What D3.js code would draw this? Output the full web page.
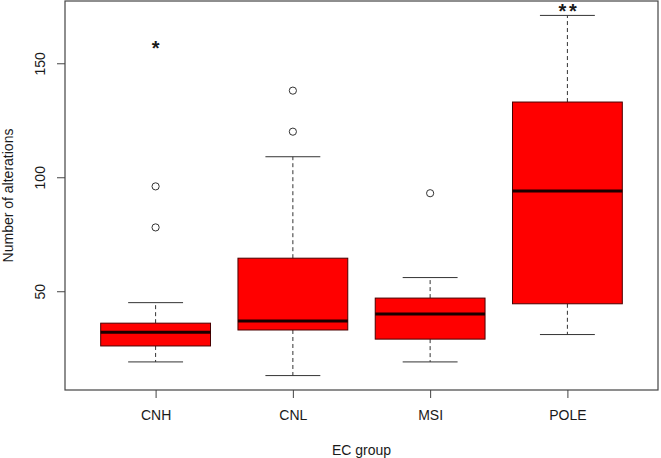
<!DOCTYPE html>
<html>
<head>
<meta charset="utf-8">
<script src="https://cdn.jsdelivr.net/npm/d3@7"></script>
<style>
  html, body { margin: 0; padding: 0; background: #fff; }
  text { font-family: "Liberation Sans", Arial, sans-serif; fill: #1a1a1a; }
</style>
</head>
<body>
<svg id="chart" width="661" height="458"></svg>
<script>
const categories = ["CNH", "CNL", "MSI", "POLE"];
const whiskerLow = [19, 13, 19, 31];
const q1 = [26, 33, 29, 44.5];
const median = [32, 37, 40, 94];
const q3 = [36, 64.5, 47, 133];
const whiskerHigh = [45, 109, 56, 171];
const outliers = [[96, 78], [138, 120], [93], []];
const yTicks = [50, 100, 150];
const signifLabels = ["*", "", "", "**"];
const signifValues = [158.5, null, null, 174.7];
const xTitle = "EC group";
const yTitle = "Number of alterations";

(function () {
const svg = d3.select("#chart");
const mLeft = 65, mRight = 658, mTop = 1, mBottom = 390;

// R-style 4% axis expansion
const allVals = [].concat(whiskerLow, whiskerHigh, ...outliers);
const lo = d3.min(allVals), hi = d3.max(allVals);
const pad = (hi - lo) * 0.04;
const y = d3.scaleLinear().domain([lo - pad, hi + pad]).range([mBottom, mTop]);
const n = categories.length;
const xpad = n * 0.04;
const x = d3.scaleLinear().domain([0.5 - xpad, n + 0.5 + xpad]).range([mLeft, mRight]);

const boxW = 0.8, capW = 0.4;
const data = categories.map((c, i) => ({
  c, i: i + 1, lo: whiskerLow[i], q1: q1[i], med: median[i], q3: q3[i], hi: whiskerHigh[i], out: outliers[i]
}));

const g = svg.append("g");
const boxes = g.selectAll("g.box").data(data).join("g").attr("class", "box");

boxes.append("line")
  .attr("x1", d => x(d.i)).attr("x2", d => x(d.i))
  .attr("y1", d => y(d.q3)).attr("y2", d => y(d.hi))
  .attr("stroke", "#333").attr("stroke-width", 1).attr("stroke-dasharray", "4,3");
boxes.append("line")
  .attr("x1", d => x(d.i)).attr("x2", d => x(d.i))
  .attr("y1", d => y(d.q1)).attr("y2", d => y(d.lo))
  .attr("stroke", "#333").attr("stroke-width", 1).attr("stroke-dasharray", "4,3");
["hi", "lo"].forEach(k => {
  boxes.append("line")
    .attr("x1", d => x(d.i - capW / 2)).attr("x2", d => x(d.i + capW / 2))
    .attr("y1", d => y(d[k])).attr("y2", d => y(d[k]))
    .attr("stroke", "#333").attr("stroke-width", 1);
});
boxes.append("rect")
  .attr("x", d => x(d.i - boxW / 2))
  .attr("width", d => x(d.i + boxW / 2) - x(d.i - boxW / 2))
  .attr("y", d => y(d.q3))
  .attr("height", d => y(d.q1) - y(d.q3))
  .attr("fill", "#ff0000").attr("stroke", "#4a0000").attr("stroke-width", 1);
boxes.append("line")
  .attr("x1", d => x(d.i - boxW / 2)).attr("x2", d => x(d.i + boxW / 2))
  .attr("y1", d => y(d.med)).attr("y2", d => y(d.med))
  .attr("stroke", "#1a0000").attr("stroke-width", 3);
boxes.selectAll("circle").data(d => d.out.map(v => ({ i: d.i, v }))).join("circle")
  .attr("cx", d => x(d.i)).attr("cy", d => y(d.v)).attr("r", 3.6)
  .attr("fill", "none").attr("stroke", "#333").attr("stroke-width", 1);

const sigSize = 20;
g.selectAll("text.sig").data(categories.map((c, i) => ({ i: i + 1, t: signifLabels[i], v: signifValues[i] })).filter(d => d.t))
  .join("text").attr("class", "sig")
  .attr("x", d => x(d.i) + (d.t.length > 1 ? 1.5 : 0)).attr("y", d => y(d.v) + sigSize * 0.575)
  .attr("text-anchor", "middle").attr("font-size", sigSize).attr("font-weight", "bold")
  .attr("letter-spacing", d => d.t.length > 1 ? 2.5 : 0)
  .text(d => d.t);

const yAxis = d3.axisLeft(y).tickValues(yTicks).tickSize(8).tickSizeOuter(0);
const yg = svg.append("g").attr("transform", `translate(${mLeft},0)`).call(yAxis);
yg.select(".domain").remove();
yg.selectAll(".tick line").attr("stroke", "#444");
yg.selectAll(".tick text")
  .attr("font-size", 14).attr("font-family", "Liberation Sans, Arial, sans-serif")
  .attr("fill", "#1a1a1a")
  .attr("text-anchor", "middle")
  .attr("x", 0).attr("y", 0).attr("dy", null)
  .attr("transform", "translate(-25,0) rotate(-90)")
  .attr("dominant-baseline", "central");

const xAxis = d3.axisBottom(x).tickValues(d3.range(1, n + 1)).tickFormat(d => categories[d - 1]).tickSize(8).tickSizeOuter(0).tickPadding(12);
const xg = svg.append("g").attr("transform", `translate(0,${mBottom})`).call(xAxis);
xg.select(".domain").remove();
xg.selectAll(".tick line").attr("stroke", "#444");
xg.selectAll(".tick text").attr("font-size", 14).attr("font-family", "Liberation Sans, Arial, sans-serif").attr("fill", "#1a1a1a");

svg.append("rect").attr("x", mLeft).attr("y", mTop).attr("width", mRight - mLeft).attr("height", mBottom - mTop)
  .attr("fill", "none").attr("stroke", "#444").attr("stroke-width", 1.2);

svg.append("text").attr("x", (mLeft + mRight) / 2).attr("y", 455)
  .attr("text-anchor", "middle").attr("font-size", 14).text(xTitle);
svg.append("text").attr("transform", `translate(13,${(mTop + mBottom) / 2}) rotate(-90)`)
  .attr("text-anchor", "middle").attr("font-size", 14).text(yTitle);
})();
</script>
</body>
</html>
